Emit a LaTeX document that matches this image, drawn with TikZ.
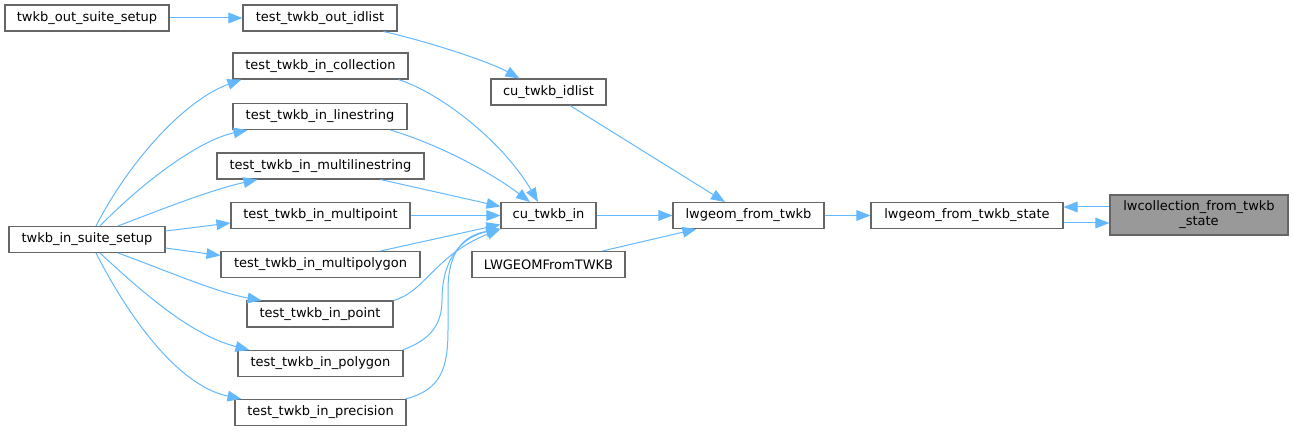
\documentclass[tikz,border=0pt]{standalone}
\usepackage{fontspec}
\setmainfont{DejaVu Sans}
\usetikzlibrary{arrows.meta,calc}
\definecolor{edgeblue}{HTML}{63B8FF}
\definecolor{boxline}{HTML}{666666}
\definecolor{hlfill}{HTML}{999999}
\begin{document}
\begin{tikzpicture}[x=0.75pt,y=-0.75pt,
  bx/.style={draw=boxline, fill=white, line width=0.8pt, inner sep=0pt, font=\fontsize{9.75pt}{11.25pt}\selectfont, text=black, align=center},
  wh/.style 2 args={minimum width=#1*0.75pt, minimum height=#2*0.75pt},
  conn/.style={draw=edgeblue, line width=0.75pt, -{Triangle[length=10.5pt,width=8pt]}}]
\useasboundingbox (0,0) rectangle (1293,431);
% nodes
\node[bx,wh={164}{26}] (outsuite) at (87,18) {twkb\_out\_suite\_setup};
\node[bx,wh={154}{26}] (outidlist) at (320,18) {test\_twkb\_out\_idlist};
\node[bx,wh={175}{26}] (coll) at (320.5,66) {test\_twkb\_in\_collection};
\node[bx,wh={174}{26}] (lines) at (320,116.5) {test\_twkb\_in\_linestring};
\node[bx,wh={207}{26}] (mlines) at (320.5,166) {test\_twkb\_in\_multilinestring};
\node[bx,wh={179}{26}] (mpoint) at (320.5,215.5) {test\_twkb\_in\_multipoint};
\node[bx,wh={156}{26}] (insuite) at (87,239.5) {twkb\_in\_suite\_setup};
\node[bx,wh={199}{26}] (mpoly) at (320.5,264.5) {test\_twkb\_in\_multipolygon};
\node[bx,wh={146}{26}] (point) at (320,314) {test\_twkb\_in\_point};
\node[bx,wh={165}{26}] (poly) at (320.5,363.5) {test\_twkb\_in\_polygon};
\node[bx,wh={171}{26}] (prec) at (320.5,412.5) {test\_twkb\_in\_precision};
\node[bx,wh={115}{26}] (cuidlist) at (548.5,92) {cu\_twkb\_idlist};
\node[bx,wh={95}{26}] (cuin) at (548.5,215.5) {cu\_twkb\_in};
\node[bx,wh={151}{26}] (lwfrom) at (748.5,215.5) {lwgeom\_from\_twkb};
\node[bx,wh={153}{26}] (LWGEOM) at (548.5,264.5) {LWGEOMFromTWKB};
\node[bx,wh={192}{26}] (state) at (967,215.5) {lwgeom\_from\_twkb\_state};
\node[bx,wh={178}{40},fill=hlfill] (collstate) at (1199,215) {lwcollection\_from\_twkb\\\_state};
% edges
\draw[conn] (outsuite.east) -- (outidlist.west);
\draw[conn] ($(outidlist.south east)+(-14,0)$) .. controls (430,42) and (490,62) .. ($(cuidlist.north west)+(29,0)$);
\draw[conn] ($(cuidlist.south)+(21.5,0)$) -- ($(lwfrom.north)+(-23.5,0)$);
% from twkb_in_suite_setup
\draw[conn] ($(insuite.north)+(9,0)$) .. controls (130,160) and (185,100) .. ($(coll.south west)+(9,0)$);
\draw[conn] ($(insuite.north)+(13,0)$) .. controls (145,180) and (200,140) .. ($(lines.south west)+(15,0)$);
\draw[conn] ($(insuite.north)+(31,0)$) .. controls (160,210) and (210,190) .. ($(mlines.south west)+(41,0)$);
\draw[conn] ($(insuite.east)+(0,-8.5)$) -- ($(mpoint.west)+(0,7.5)$);
\draw[conn] ($(insuite.east)+(0,8.5)$) -- ($(mpoly.west)+(0,-9)$);
\draw[conn] ($(insuite.south)+(31,0)$) .. controls (165,270) and (215,292) .. ($(point.north west)+(15,0)$);
\draw[conn] ($(insuite.south)+(13,0)$) .. controls (140,290) and (190,335) .. ($(poly.north west)+(12,0)$);
\draw[conn] ($(insuite.south)+(9,0)$) .. controls (125,310) and (175,385) .. ($(prec.north west)+(7,0)$);
% into cu_twkb_in
\draw[conn] ($(coll.south east)+(-10,0)$) .. controls (445,95) and (505,145) .. ($(cuin.north)+(-10.5,0)$);
\draw[conn] ($(lines.south east)+(-17,0)$) .. controls (440,145) and (490,172) .. ($(cuin.north)+(-18.5,0)$);
\draw[conn] ($(mlines.south east)+(-44,0)$) -- ($(cuin.west)+(0,-9)$);
\draw[conn] (mpoint.east) -- (cuin.west);
\draw[conn] ($(mpoly.north east)+(-40,0)$) -- ($(cuin.west)+(0,9)$);
\draw[conn] (point.north east) .. controls (425,292) and (435,255) .. (cuin.south west);
\draw[conn] ($(poly.north east)+(-1,0)$) .. controls (430,340) and (442,325) .. (442,300) .. controls (442,255) and (465,236) .. (cuin.south west);
\draw[conn] ($(prec.north east)+(-1,0)$) .. controls (440,390) and (448,370) .. (448,330) -- (448,290) .. controls (448,250) and (465,235) .. (cuin.south west);
% right part
\draw[conn] (cuin.east) -- (lwfrom.west);
\draw[conn] ($(LWGEOM.north east)+(-23,0)$) -- ($(lwfrom.south west)+(24,0)$);
\draw[conn] (lwfrom.east) -- (state.west);
\draw[conn] ($(state.east)+(0,7.5)$) -- ($(collstate.west)+(0,8)$);
\draw[conn] ($(collstate.west)+(0,-8)$) -- ($(state.east)+(0,-8.5)$);
\end{tikzpicture}
\end{document}
